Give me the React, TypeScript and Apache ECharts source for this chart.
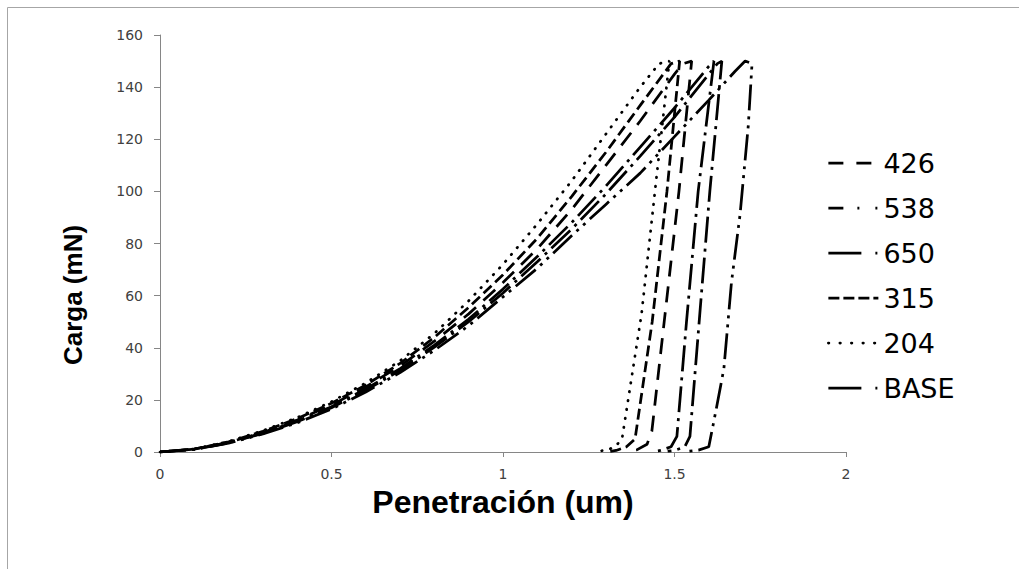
import React, { useEffect, useRef } from "react";
import * as echarts from "echarts";

// Legend / series order as in the reference
const seriesNames = ["426", "538", "650", "315", "204", "BASE"];

// [penetration (um), load (mN)] — loading, hold, unloading, tail
const curve426: [number, number][] = [
  [0, 0], [0.1, 1.1], [0.2, 3.7], [0.3, 7.5], [0.4, 12.3], [0.5, 18], [0.6, 25], [0.7, 33],
  [0.8, 42.5], [0.9, 53], [1.0, 65], [1.1, 78], [1.2, 93], [1.3, 110], [1.4, 127], [1.5, 145],
  [1.525, 149], [1.55, 150], [1.513, 100], [1.47, 50], [1.434, 8], [1.42, 3], [1.39, 0.8], [1.36, 0.3],
];
const curve538: [number, number][] = [
  [0, 0], [0.1, 1], [0.2, 3.4], [0.3, 6.9], [0.4, 11.2], [0.5, 16.5], [0.6, 23], [0.7, 30.5],
  [0.8, 39], [0.9, 48.5], [1.0, 59.5], [1.1, 70.5], [1.2, 83], [1.3, 95], [1.4, 107], [1.5, 121],
  [1.6, 135], [1.676, 146], [1.706, 150], [1.726, 149], [1.715, 125], [1.691, 91], [1.666, 65],
  [1.644, 32], [1.621, 16], [1.612, 10], [1.6, 2], [1.57, 0.7], [1.54, 0.3],
];
const curve650: [number, number][] = [
  [0, 0], [0.1, 1.05], [0.2, 3.5], [0.3, 7.1], [0.4, 11.6], [0.5, 17], [0.6, 23.7], [0.7, 31.3],
  [0.8, 40.2], [0.9, 50], [1.0, 61], [1.1, 73], [1.2, 85.5], [1.3, 99], [1.4, 113.5], [1.5, 128.5],
  [1.6, 145], [1.625, 149], [1.638, 150], [1.603, 100], [1.575, 55], [1.545, 6], [1.53, 2],
  [1.5, 0.6], [1.48, 0.3],
];
const curve315: [number, number][] = [
  [0, 0], [0.1, 1.15], [0.2, 3.9], [0.3, 7.9], [0.4, 12.8], [0.5, 18.7], [0.6, 25.7], [0.7, 34],
  [0.8, 44], [0.9, 55.5], [1.0, 68], [1.1, 82], [1.2, 98], [1.3, 115], [1.4, 133], [1.49, 149],
  [1.515, 150], [1.478, 100], [1.435, 50], [1.385, 5], [1.36, 2], [1.33, 0.6], [1.31, 0.2],
];
const curve204: [number, number][] = [
  [0, 0], [0.1, 1.2], [0.2, 4], [0.3, 8.2], [0.4, 13.2], [0.5, 19.3], [0.6, 26.5], [0.7, 35],
  [0.8, 45.5], [0.9, 58], [1.0, 72], [1.1, 87.5], [1.2, 104], [1.3, 122], [1.4, 140], [1.455, 149],
  [1.485, 150], [1.443, 100], [1.404, 53], [1.347, 5], [1.33, 2.5], [1.31, 1], [1.28, 0.3],
];
const curveBASE: [number, number][] = [
  [0, 0], [0.1, 1.1], [0.2, 3.6], [0.3, 7.3], [0.4, 11.9], [0.5, 17.4], [0.6, 24.2], [0.7, 32],
  [0.8, 41], [0.9, 51], [1.0, 62.5], [1.1, 75], [1.2, 88], [1.3, 102], [1.4, 117], [1.5, 132],
  [1.6, 148], [1.615, 150], [1.569, 100], [1.535, 50], [1.507, 6], [1.49, 2], [1.46, 0.6], [1.44, 0.3],
];

const curves = [curve426, curve538, curve650, curve315, curve204, curveBASE];

// line dash patterns in the plot
const dashPatterns: number[][] = [
  [16, 10],
  [26, 6, 3, 6, 3, 6],
  [26, 6, 3, 6],
  [11, 5],
  [0.5, 8.5],
  [26, 6, 3, 6],
];
// dash patterns in the (wider-spaced) legend keys
const legendDash: number[][] = [
  [15, 13],
  [15, 14, 2, 16, 2, 20],
  [33, 14, 2, 20],
  [11, 4],
  [0.5, 11],
  [33, 14, 2, 20],
];
const dashCaps = ["butt", "butt", "butt", "butt", "round", "butt"];

export default function App() {
  const ref = useRef<HTMLDivElement>(null);

  useEffect(() => {
    const chart = echarts.init(ref.current as HTMLDivElement, null, { renderer: "svg" });
    const axisColor = "#868686";
    const option: any = {
      animation: false,
      backgroundColor: "#ffffff",
      grid: { left: 160, top: 35, width: 686, height: 417 },
      xAxis: {
        type: "value",
        min: 0,
        max: 2,
        interval: 0.5,
        name: "Penetración (um)",
        nameLocation: "middle",
        nameGap: 30,
        nameTextStyle: { fontFamily: "Liberation Sans", fontWeight: "bold", fontSize: 32, color: "#000" },
        axisLine: { show: true, lineStyle: { color: axisColor, width: 1 } },
        axisTick: { show: true, length: 5, lineStyle: { color: axisColor } },
        axisLabel: { fontFamily: "DejaVu Sans", fontSize: 14, color: "#404040", margin: 15 },
        splitLine: { show: false },
      },
      yAxis: {
        type: "value",
        min: 0,
        max: 160,
        interval: 20,
        axisLine: { show: true, lineStyle: { color: axisColor, width: 1 } },
        axisTick: { show: true, length: 6, lineStyle: { color: axisColor } },
        axisLabel: { fontFamily: "DejaVu Sans", fontSize: 14, color: "#404040", margin: 17 },
        splitLine: { show: false },
      },
      legend: {
        orient: "vertical",
        left: 827,
        top: 148,
        padding: 0,
        itemWidth: 50,
        itemHeight: 30,
        itemGap: 15,
        data: seriesNames.map((name, i) => ({
          name,
          lineStyle: { type: legendDash[i], cap: dashCaps[i], width: 2.75, color: "#000" },
          itemStyle: { color: "rgba(0,0,0,0)", borderWidth: 0, opacity: 0 },
        })),
        lineStyle: { width: 2.75 },
        itemStyle: { color: "rgba(0,0,0,0)", borderWidth: 0, opacity: 0 },
        textStyle: { fontFamily: "DejaVu Sans", fontSize: 27, color: "#000", lineHeight: 30 },
      },
      graphic: [
        {
          type: "rect",
          shape: { x: 7.5, y: 7.5, width: 1200, height: 800 },
          style: { fill: "none", stroke: "#a6a6a6", lineWidth: 1 },
          silent: true,
        },
        {
          type: "text",
          x: 73,
          y: 295,
          rotation: Math.PI / 2,
          style: {
            text: "Carga (mN)",
            fontFamily: "Liberation Sans",
            fontWeight: "bold",
            fontSize: 26,
            fill: "#000",
            align: "center",
            verticalAlign: "middle",
          },
        },
      ],
      series: seriesNames.map((name, i) => ({
        name,
        type: "line",
        data: curves[i],
        symbol: "none",
        showSymbol: false,
        smooth: false,
        lineStyle: { color: "#000", width: 2.75, type: dashPatterns[i], cap: dashCaps[i] },
        itemStyle: { color: "#000" },
      })),
    };
    chart.setOption(option);
    return () => chart.dispose();
  }, []);

  return (
    <div
      ref={ref}
      style={{ position: "fixed", left: 0, top: 0, width: 1019, height: 569, background: "#fff" }}
    />
  );
}
